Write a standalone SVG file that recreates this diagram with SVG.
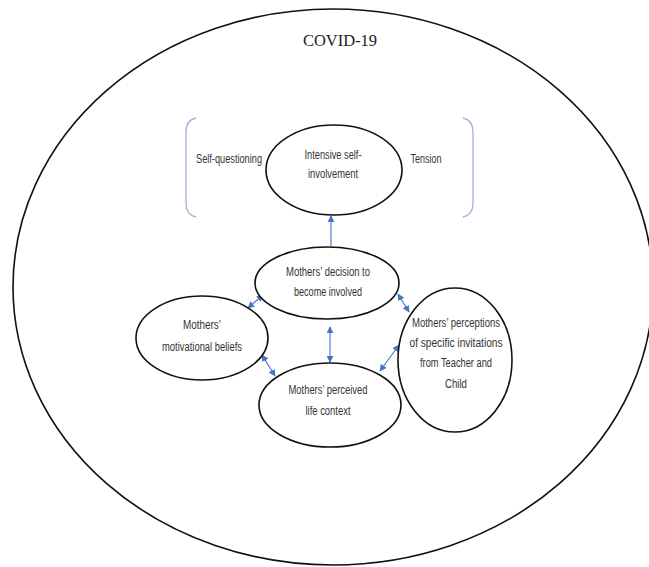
<svg xmlns="http://www.w3.org/2000/svg" width="649" height="567" viewBox="0 0 649 567">
<style>
.node ellipse{fill:#fff;stroke:#111;stroke-width:1.6}
.lbl{font-family:"Liberation Sans",Arial,sans-serif;font-size:12px;fill:#333;text-anchor:middle}
.conn{stroke:#4472C4;stroke-width:1.1;fill:none}
.brk{stroke:#9DB3DC;stroke-width:1.3;fill:none}
</style>
<defs>
<marker id="ah" viewBox="0 0 10 10" refX="9" refY="5" markerWidth="7" markerHeight="7" markerUnits="userSpaceOnUse" orient="auto-start-reverse">
<path d="M0,0 L10,5 L0,10 z" fill="#4472C4"/>
</marker>
</defs>
<rect width="649" height="567" fill="#fff"/>
<g id="covid">
<ellipse cx="333" cy="287" rx="320" ry="278" fill="none" stroke="#111" stroke-width="1.6"/>
<text x="340" y="46" font-family="Liberation Serif,'Times New Roman',serif" font-size="16.5" fill="#222" text-anchor="middle">COVID-19</text>
</g>
<g id="brackets">
<path class="brk" d="M196,118 Q186,120 186,132 L186,203 Q186,215 196,217"/>
<path class="brk" d="M463,118 Q473,120 473,132 L473,203 Q473,215 463,217"/>
<text class="lbl" x="229" y="163" textLength="66" lengthAdjust="spacingAndGlyphs">Self-questioning</text>
<text class="lbl" x="426" y="163" textLength="31" lengthAdjust="spacingAndGlyphs">Tension</text>
</g>
<g id="connectors">
<line class="conn" x1="331" y1="246" x2="331" y2="216" marker-end="url(#ah)"/>
<line class="conn" x1="263" y1="295" x2="248" y2="308" marker-start="url(#ah)" marker-end="url(#ah)"/>
<line class="conn" x1="398" y1="294" x2="409" y2="312" marker-start="url(#ah)" marker-end="url(#ah)"/>
<line class="conn" x1="330" y1="327" x2="330" y2="362" marker-start="url(#ah)" marker-end="url(#ah)"/>
<line class="conn" x1="262" y1="355" x2="275" y2="376" marker-start="url(#ah)" marker-end="url(#ah)"/>
<line class="conn" x1="399" y1="345" x2="380" y2="371" marker-start="url(#ah)" marker-end="url(#ah)"/>
</g>
<g id="n-intensive" class="node">
<ellipse cx="334" cy="170" rx="68" ry="45"/>
<text class="lbl" x="333" y="159" textLength="57" lengthAdjust="spacingAndGlyphs">Intensive self-</text>
<text class="lbl" x="333" y="178" textLength="50" lengthAdjust="spacingAndGlyphs">involvement</text>
</g>
<g id="n-decision" class="node">
<ellipse cx="327" cy="283" rx="72" ry="36"/>
<text class="lbl" x="328" y="276" textLength="84" lengthAdjust="spacingAndGlyphs">Mothers’ decision to</text>
<text class="lbl" x="328" y="296" textLength="68" lengthAdjust="spacingAndGlyphs">become involved</text>
</g>
<g id="n-motivational" class="node">
<ellipse cx="202" cy="338" rx="66" ry="42"/>
<text class="lbl" x="202" y="329" textLength="38" lengthAdjust="spacingAndGlyphs">Mothers’</text>
<text class="lbl" x="202" y="351" textLength="80" lengthAdjust="spacingAndGlyphs">motivational beliefs</text>
</g>
<g id="n-context" class="node">
<ellipse cx="330" cy="405" rx="71" ry="42"/>
<text class="lbl" x="328" y="394" textLength="79" lengthAdjust="spacingAndGlyphs">Mothers’ perceived</text>
<text class="lbl" x="328" y="415" textLength="45" lengthAdjust="spacingAndGlyphs">life context</text>
</g>
<g id="n-perceptions" class="node">
<ellipse cx="455" cy="360" rx="57" ry="72"/>
<text class="lbl" x="456" y="327" textLength="88" lengthAdjust="spacingAndGlyphs">Mothers’ perceptions</text>
<text class="lbl" x="456" y="347" textLength="93" lengthAdjust="spacingAndGlyphs">of specific invitations</text>
<text class="lbl" x="456" y="367" textLength="72" lengthAdjust="spacingAndGlyphs">from Teacher and</text>
<text class="lbl" x="456" y="388" textLength="22" lengthAdjust="spacingAndGlyphs">Child</text>
</g>
</svg>
